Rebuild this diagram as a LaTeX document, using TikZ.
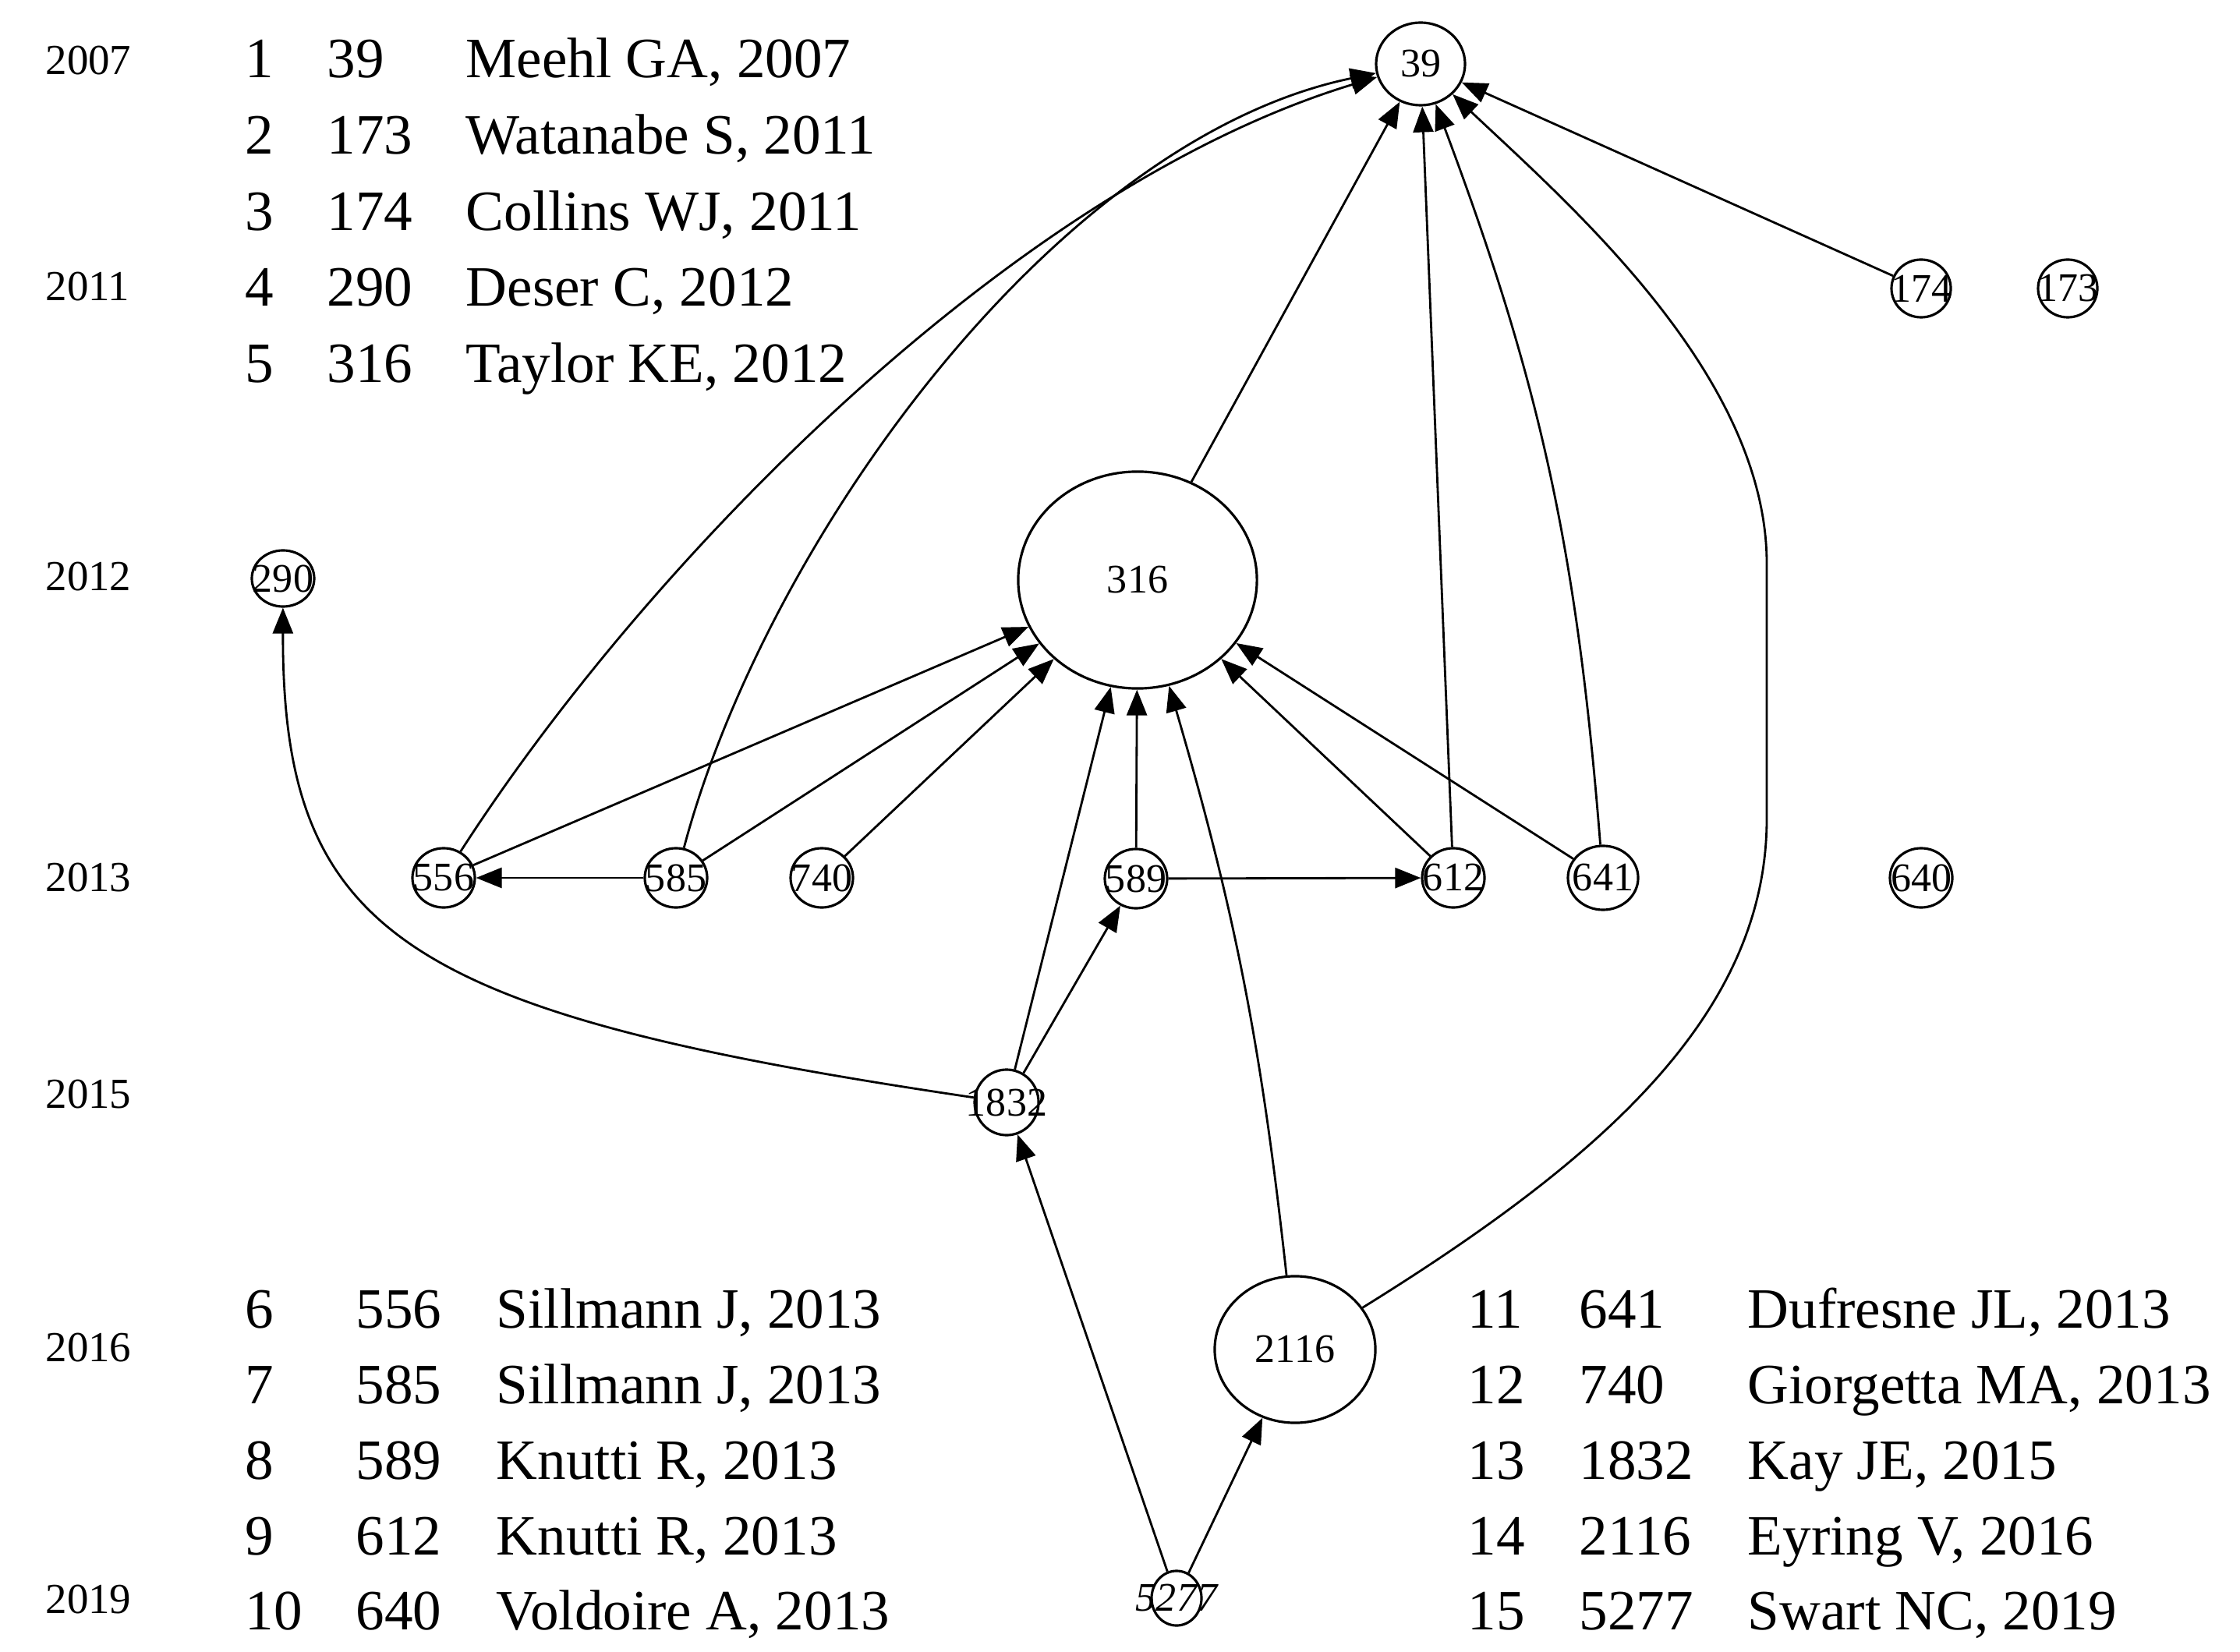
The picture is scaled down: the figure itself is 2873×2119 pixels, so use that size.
\documentclass[tikz,border=0pt]{standalone}
\usepackage{fontspec}
\setmainfont{Liberation Serif}
\usetikzlibrary{arrows.meta,shapes.geometric}
\newcommand{\tblfont}{\fontsize{20.8pt}{25pt}\selectfont}
\newcommand{\yrfont}{\fontsize{15.6pt}{18pt}\selectfont}
\newcommand{\ndfont}{\fontsize{14.8pt}{17pt}\selectfont}
\tikzset{
  nd/.style={draw, ellipse, line width=0.9pt, inner sep=0pt, minimum width=0.80cm, minimum height=0.76cm},
  lab/.style={label={[font=\ndfont, inner sep=0pt]center:#1}},
  edge/.style={line width=0.8pt, -{Triangle[length=0.33cm,width=0.26cm]}},
  yr/.style={font=\yrfont, anchor=base west, inner sep=0pt},
  tb/.style={font=\tblfont, anchor=base west, inner sep=0pt},
}
\begin{document}
\begin{tikzpicture}[x=0.01cm, y=-0.01cm]
\fill[white] (0,0) rectangle (2873,2119);
\useasboundingbox (0,0) rectangle (2873,2119);

% years
\node[yr] (y2007) at (58,96) {2007};
\node[yr] (y2011) at (58,386) {2011};
\node[yr] (y2012) at (58,758) {2012};
\node[yr] (y2013) at (58,1143) {2013};
\node[yr] (y2015) at (58,1421) {2015};
\node[yr] (y2016) at (58,1746) {2016};
\node[yr] (y2019) at (58,2069) {2019};

% table top-left
\node[tb] (ta1) at (314,100) {1};
\node[tb] (ta2) at (314,198) {2};
\node[tb] (ta3) at (314,296) {3};
\node[tb] (ta4) at (314,393) {4};
\node[tb] (ta5) at (314,491) {5};
\node[tb] (tb1) at (419,100) {39};
\node[tb] (tb2) at (419,198) {173};
\node[tb] (tb3) at (419,296) {174};
\node[tb] (tb4) at (419,393) {290};
\node[tb] (tb5) at (419,491) {316};
\node[tb] (tc1) at (597,100) {Meehl GA, 2007};
\node[tb] (tc2) at (597,198) {Watanabe S, 2011};
\node[tb] (tc3) at (597,296) {Collins WJ, 2011};
\node[tb] (tc4) at (597,393) {Deser C, 2012};
\node[tb] (tc5) at (597,491) {Taylor KE, 2012};

% table bottom-left
\node[tb] (ta6) at (314,1703) {6};
\node[tb] (ta7) at (314,1800) {7};
\node[tb] (ta8) at (314,1897) {8};
\node[tb] (ta9) at (314,1994) {9};
\node[tb] (ta10) at (314,2090) {10};
\node[tb] (tb6) at (456,1703) {556};
\node[tb] (tb7) at (456,1800) {585};
\node[tb] (tb8) at (456,1897) {589};
\node[tb] (tb9) at (456,1994) {612};
\node[tb] (tb10) at (456,2090) {640};
\node[tb] (tc6) at (636,1703) {Sillmann J, 2013};
\node[tb] (tc7) at (636,1800) {Sillmann J, 2013};
\node[tb] (tc8) at (636,1897) {Knutti R, 2013};
\node[tb] (tc9) at (636,1994) {Knutti R, 2013};
\node[tb] (tc10) at (636,2090) {Voldoire A, 2013};

% table bottom-right
\node[tb] (ta11) at (1882,1703) {11};
\node[tb] (ta12) at (1882,1800) {12};
\node[tb] (ta13) at (1882,1897) {13};
\node[tb] (ta14) at (1882,1994) {14};
\node[tb] (ta15) at (1882,2090) {15};
\node[tb] (tb11) at (2025,1703) {641};
\node[tb] (tb12) at (2025,1800) {740};
\node[tb] (tb13) at (2025,1897) {1832};
\node[tb] (tb14) at (2025,1994) {2116};
\node[tb] (tb15) at (2025,2090) {5277};
\node[tb] (tc11) at (2241,1703) {Dufresne JL, 2013};
\node[tb] (tc12) at (2241,1800) {Giorgetta MA, 2013};
\node[tb] (tc13) at (2241,1897) {Kay JE, 2015};
\node[tb] (tc14) at (2241,1994) {Eyring V, 2016};
\node[tb] (tc15) at (2241,2090) {Swart NC, 2019};

% graph nodes
\node[nd, minimum width=1.14cm, minimum height=1.06cm, lab=39] (n39) at (1822,82) {};
\node[nd, minimum width=0.76cm, minimum height=0.74cm, lab=174] (n174) at (2464,370) {};
\node[nd, minimum width=0.76cm, minimum height=0.74cm, lab=173] (n173) at (2652,370) {};
\node[nd, minimum width=0.80cm, minimum height=0.72cm, lab=290] (n290) at (363,742) {};
\node[nd, minimum width=3.06cm, minimum height=2.78cm, lab=316] (n316) at (1459,744) {};
\node[nd, lab=556] (n556) at (569,1126) {};
\node[nd, lab=585] (n585) at (867,1126) {};
\node[nd, lab=740] (n740) at (1054,1126) {};
\node[nd, lab=589] (n589) at (1457,1127) {};
\node[nd, lab=612] (n612) at (1864,1126) {};
\node[nd, minimum width=0.90cm, minimum height=0.82cm, lab=641] (n641) at (2056,1126) {};
\node[nd, lab=640] (n640) at (2464,1126) {};
\node[nd, minimum width=0.82cm, minimum height=0.84cm, lab=1832] (n1832) at (1291,1414) {};
\node[nd, minimum width=2.06cm, minimum height=1.88cm, lab=2116] (n2116) at (1661,1731) {};
\node[nd, minimum width=0.64cm, minimum height=0.70cm, label={[font=\ndfont\itshape, inner sep=0pt]center:5277}] (n5277) at (1509,2050) {};

% edges
\draw[edge] (n556) .. controls (830,720) and (1300,240) .. (n39);
\draw[edge] (n585) .. controls (980,700) and (1350,180) .. (n39);
\draw[edge] (n316) -- (n39);
\draw[edge] (n612) -- (n39);
\draw[edge] (n641) to[bend right=8] (n39);
\draw[edge] (n2116) .. controls (2056,1486) and (2266,1300) .. (2266,1050) -- (2266,723) .. controls (2266,480) and (2010,260) .. (n39);
\draw[edge] (n174) -- (n39);
\draw[edge] (n556) -- (n316);
\draw[edge] (n585) -- (n316);
\draw[edge] (n740) -- (n316);
\draw[edge] (n585) -- (n556);
\draw[edge] (n589) -- (n316);
\draw[edge] (n589) -- (n612);
\draw[edge] (n612) -- (n316);
\draw[edge] (n641) -- (n316);
\draw[edge] (n1832) -- (n316);
\draw[edge] (n1832) -- (n589);
\draw[edge] (n1832) .. controls (520,1300) and (362,1200) .. (n290);
\draw[edge] (n2116) to[bend right=5] (n316);
\draw[edge] (n5277) -- (n1832);
\draw[edge] (n5277) -- (n2116);
\end{tikzpicture}
\end{document}
